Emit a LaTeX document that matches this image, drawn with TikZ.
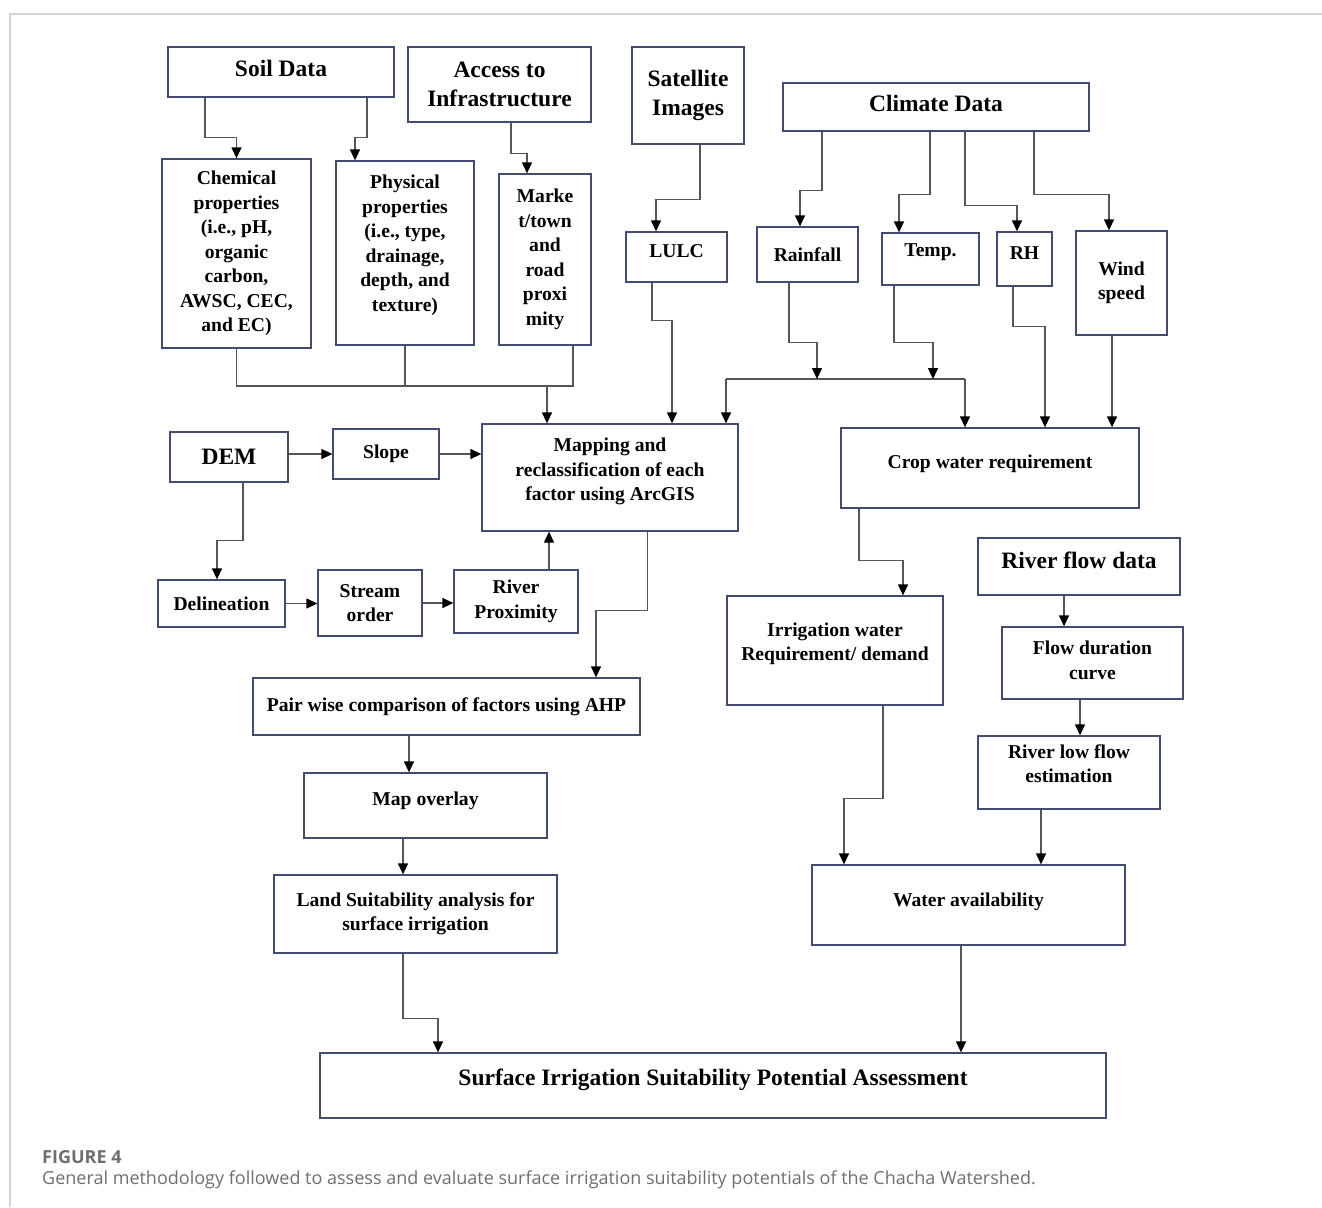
\documentclass[tikz,border=0pt]{standalone}
\usepackage{fontspec}
\setmainfont{Liberation Serif}
\newfontfamily\capfont{Open Sans}
\usetikzlibrary{arrows.meta}

\definecolor{boxline}{RGB}{66,76,112}
\definecolor{wire}{RGB}{85,85,85}
\definecolor{framegray}{RGB}{212,212,212}
\definecolor{captext}{RGB}{110,110,110}

\begin{document}
\begin{tikzpicture}[
        x=1pt, y=-1pt, % one unit = one pixel, y downwards
        box/.style={
            draw=boxline,
            rectangle,
            line width=1.3pt,
            align=center,
            inner sep=2pt,
            font=\fontsize{19.6pt}{24.5pt}\selectfont\bfseries
        },
        bigbox/.style={
            box,
            font=\fontsize{23.5pt}{29.5pt}\selectfont\bfseries % headings
        },
        size/.style 2 args={minimum width=#1pt, minimum height=#2pt},
        lift/.style={text depth=#1pt}, % text sits above the middle
        line/.style={draw=wire, line width=1.3pt},
        arrow/.style={
            line,
            -{Triangle[length=11pt, width=10pt, color=black]}
        },
        caption/.style={anchor=base west, inner sep=0pt, color=captext}
    ]
        \useasboundingbox (0,0) rectangle (1322,1207);
        \draw[framegray, line width=1.5pt] (10,1207) -- (10,14) -- (1322,14);

        % data sources
        \node (soil) [bigbox, size={226}{50}, lift=8] at (281,72) {Soil Data};
        \node (access) [bigbox, size={183}{75}] at (499.5,84.5) {Access to\\Infrastructure};
        \node (sat) [bigbox, size={112}{97}] at (688,95.5) {Satellite\\Images};
        \node (climate) [bigbox, size={306}{48}, lift=8] at (936,107) {Climate Data};

        \node (chem) [box, size={149}{189}] at (236.5,253.5) {Chemical\\properties\\(i.e., pH,\\organic\\carbon,\\AWSC, CEC,\\and EC)};
        \node (phys) [box, size={138}{184}, lift=20] at (405,253) {Physical\\properties\\(i.e., type,\\drainage,\\depth, and\\texture)};
        \node (market) [box, size={92}{171}] at (545,259.5) {Marke\\t/town\\and\\road\\proxi\\mity};
        \node (lulc) [box, size={101}{50}, lift=12] at (676.5,257) {LULC};
        \node (rain) [box, size={101}{55}] at (807.5,254.5) {Rainfall};
        \node (temp) [box, size={97}{52}, lift=18] at (930.5,259) {Temp.};
        \node (rh) [box, size={55}{54}, lift=12] at (1024.5,259) {RH};
        \node (wind) [box, size={91}{104}] at (1121.5,283) {Wind\\speed};

        % processing
        \node (mapping) [box, size={256}{107}, lift=16] at (610,477.5) {Mapping and\\reclassification of each\\factor using ArcGIS};
        \node (crop) [box, size={298}{80}, lift=12] at (990,468) {Crop water requirement};
        \node (dem) [bigbox, size={118}{50}] at (229,457) {DEM};
        \node (slope) [box, size={106}{50}] at (386,454) {Slope};
        \node (delin) [box, size={127}{47}] at (221.5,603.5) {Delineation};
        \node (stream) [box, size={104}{66}] at (370,603) {Stream\\order};
        \node (riverprox) [box, size={124}{63}] at (516,601.5) {River\\Proximity};
        \node (pair) [box, size={387}{57}] at (446.5,706.5) {Pair wise comparison of factors using AHP};
        \node (overlay) [box, size={243}{65}, lift=14] at (425.5,805.5) {Map overlay};
        \node (land) [box, size={283}{78}] at (415.5,914) {Land Suitability analysis for\\surface irrigation};
        \node (irrig) [box, size={216}{109}, lift=18] at (835,650.5) {Irrigation water\\Requirement/ demand};
        \node (flowdata) [bigbox, size={202}{57}, lift=12] at (1079,566.5) {River flow data};
        \node (fdc) [box, size={181}{72}, lift=6] at (1092.5,663) {Flow duration\\curve};
        \node (lowflow) [box, size={182}{73}, lift=18] at (1069,772.5) {River low flow\\estimation};
        \node (water) [box, size={313}{80}, lift=10] at (968.5,905) {Water availability};
        \node (surface) [bigbox, size={786}{65}, lift=17] at (713,1085.5) {Surface Irrigation Suitability Potential Assessment};

        % inputs to the factors
        \draw[arrow] ([xshift=-76pt]soil.south) -- ++(0,40) -| (chem.north);
        \draw[arrow] ([xshift=86pt]soil.south) -- ++(0,40) -| ([xshift=-50pt]phys.north);
        \draw[arrow] ([xshift=11.5pt]access.south) -- ++(0,31) -| ([xshift=-18pt]market.north);
        \draw[arrow] ([xshift=12pt]sat.south) -- ++(0,55) -| ([xshift=-20.5pt]lulc.north);
        \draw[arrow] ([xshift=-114pt]climate.south) -- ++(0,59) -| ([xshift=-7.5pt]rain.north);
        \draw[arrow] ([xshift=-6pt]climate.south) -- ++(0,63) -| ([xshift=-31.5pt]temp.north);
        \draw[arrow] ([xshift=29pt]climate.south) -- ++(0,74) -| ([xshift=-7.5pt]rh.north);
        \draw[arrow] ([xshift=98pt]climate.south) -- ++(0,63) -| ([xshift=-12.5pt]wind.north);

        % soil and access join
        \coordinate (props) at (547,386);
        \draw[line] (chem.south) |- ([xshift=28pt]market.south |- props) -- ([xshift=28pt]market.south);
        \draw[line] (phys.south) -- (phys.south |- props);
        \draw[arrow] (props) -- (props |- mapping.north);
        \draw[arrow] ([xshift=-24.5pt]lulc.south) -- ++(0,38) -| ([xshift=62pt]mapping.north);

        % rainfall and temperature split
        \coordinate (split-l) at (726,379);
        \coordinate (split-r) at (965,379);
        \coordinate (rain-in) at (817,379);
        \coordinate (temp-in) at (933,379);
        \draw[line] (split-l) -- (split-r);
        \draw[arrow] ([xshift=-18.5pt]rain.south) -- ++(0,60) -| (rain-in);
        \draw[arrow] ([xshift=-36.5pt]temp.south) -- ++(0,57) -| (temp-in);
        \draw[arrow] (split-l) -- (split-l |- mapping.north);
        \draw[arrow] (split-r) -- (split-r |- crop.north);
        \draw[arrow] ([xshift=-11.5pt]rh.south) -- ++(0,40) -| ([xshift=55pt]crop.north);
        \draw[arrow] ([xshift=-9.5pt]wind.south) -- ([xshift=-9.5pt]wind.south |- crop.north);

        % DEM branch
        \draw[arrow] (dem.east |- slope.west) -- (slope.west);
        \draw[arrow] (slope.east) -- (slope.east -| mapping.west);
        \draw[arrow] ([xshift=14pt]dem.south) -- ++(0,58) -| ([xshift=-4.5pt]delin.north);
        \draw[arrow] (delin.east) -- (delin.east -| stream.west);
        \draw[arrow] (stream.east) -- (stream.east -| riverprox.west);
        \draw[arrow] ([xshift=33pt]riverprox.north) -- ([xshift=33pt]riverprox.north |- mapping.south);

        % land suitability
        \draw[arrow] ([xshift=37.5pt]mapping.south) -- ++(0,79) -| ([xshift=149.5pt]pair.north);
        \draw[arrow] ([xshift=-37.5pt]pair.south) -- ([xshift=-37.5pt]pair.south |- overlay.north);
        \draw[arrow] ([xshift=-22.5pt]overlay.south) -- ([xshift=-22.5pt]overlay.south |- land.north);
        \draw[arrow] ([xshift=-12.5pt]land.south) -- ++(0,65) -| ([xshift=-275pt]surface.north);

        % water availability
        \draw[arrow] ([xshift=-131pt]crop.south) -- ++(0,52) -| ([xshift=68pt]irrig.north);
        \draw[arrow] ([xshift=48pt]irrig.south) -- ++(0,93) -| ([xshift=-124.5pt]water.north);
        \draw[arrow] ([xshift=-15pt]flowdata.south) -- ([xshift=-15pt]flowdata.south |- fdc.north);
        \draw[arrow] ([xshift=-12.5pt]fdc.south) -- ([xshift=-12.5pt]fdc.south |- lowflow.north);
        \draw[arrow] ([xshift=-28pt]lowflow.south) -- ([xshift=-28pt]lowflow.south |- water.north);
        \draw[arrow] ([xshift=-7.5pt]water.south) -- ([xshift=-7.5pt]water.south |- surface.north);

        % caption
        \node (figno) [caption, font=\capfont\fontsize{18pt}{22pt}\selectfont\bfseries] at (42,1163) {FIGURE 4};
        \node (figtext) [caption, font=\capfont\fontsize{18pt}{22pt}\selectfont] at (42,1184) {General methodology followed to assess and evaluate surface irrigation suitability potentials of the Chacha Watershed.};
    \end{tikzpicture}
\end{document}
